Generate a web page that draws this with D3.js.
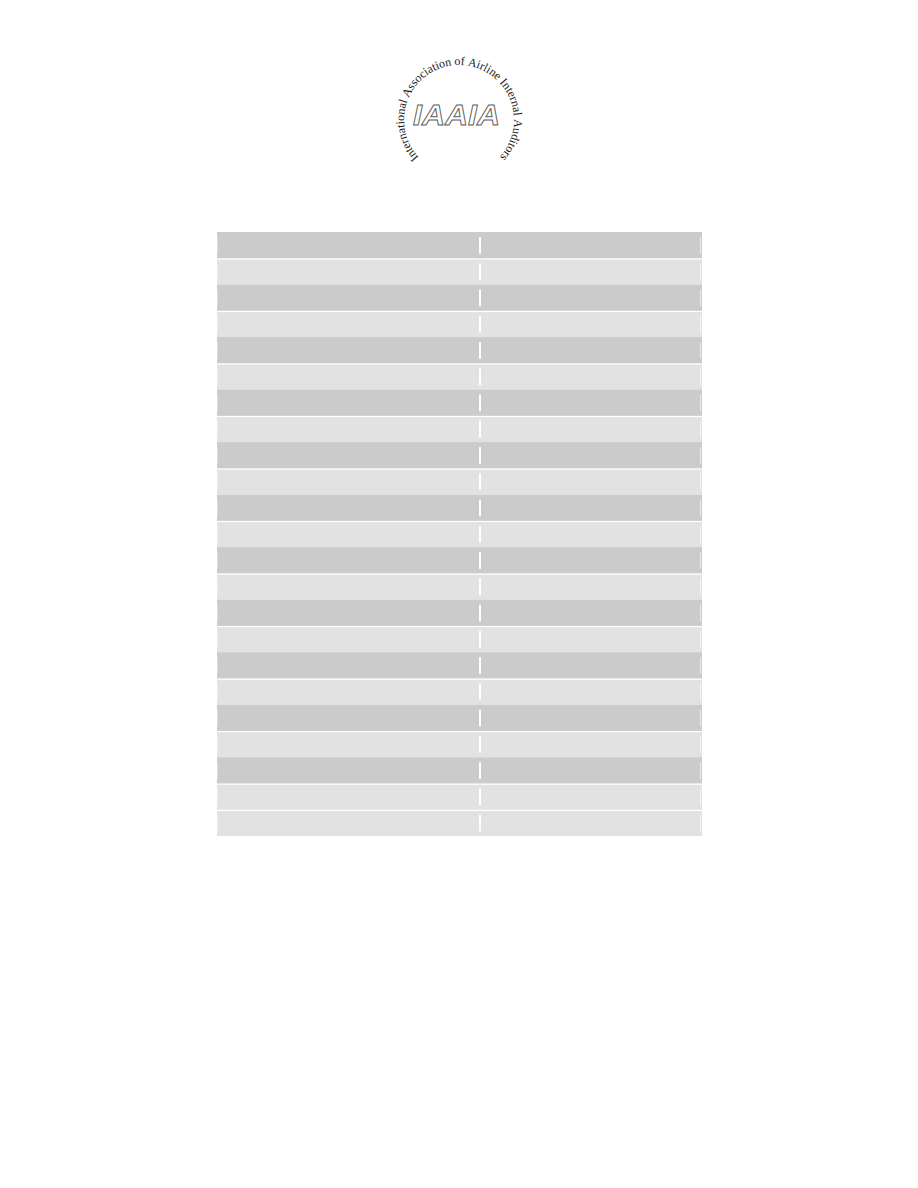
<!DOCTYPE html>
<html>
<head>
<meta charset="utf-8">
<script src="https://cdn.jsdelivr.net/npm/d3@7"></script>
<style>
  html, body { margin: 0; padding: 0; background: #ffffff; }
  svg { display: block; }
</style>
</head>
<body>
<svg id="page" width="918" height="1188"></svg>
<script>
// ---- data ----
const logoRingText = "International Association of Airline Internal Auditors";
const logoMark = "IAAIA";
const rowIds = d3.range(1, 24).map(String);
const rowShade = ["dark","light","dark","light","dark","light","dark","light","dark","light",
                  "dark","light","dark","light","dark","light","dark","light","dark","light",
                  "dark","light","light"];
const columns = ["left", "right"];
const cellText = rowIds.map(() => ["", ""]);   // table cells are empty in the reference

// ---- layout ----
const svg = d3.select("#page");
const shadeColor = { dark: "#cbcbcb", light: "#e2e2e2" };

// table scales
const y = d3.scaleBand().domain(rowIds).range([232, 836]).padding(0);
const x = d3.scaleLinear().domain([0, 1]).range([217, 702]);
const splitFrac = (480 - 217) / (702 - 217);

const table = svg.append("g").attr("class", "table");
table.selectAll("rect.row")
  .data(rowIds)
  .join("rect")
  .attr("class", "row")
  .attr("x", x(0))
  .attr("width", x(1) - x(0))
  .attr("y", (d, i) => y(d) + (rowShade[i] === "light" ? 1.3 : 0))
  .attr("height", (d, i) => y.bandwidth() - (rowShade[i] === "light" ? 1.3 : 0))
  .attr("fill", (d, i) => shadeColor[rowShade[i]]);

// column divider (white) inside each row
table.selectAll("rect.div")
  .data(rowIds)
  .join("rect")
  .attr("class", "div")
  .attr("x", x(splitFrac) - 1)
  .attr("width", 2)
  .attr("y", d => y(d) + 5)
  .attr("height", y.bandwidth() - 9.5)
  .attr("fill", "#ffffff");

// faint cell edge lines at left/right
["l", "r"].forEach(side => {
  table.selectAll("rect.edge" + side)
    .data(rowIds)
    .join("rect")
    .attr("class", "edge" + side)
    .attr("x", side === "l" ? x(0) : x(1) - 2)
    .attr("width", 1)
    .attr("y", d => y(d) + 5)
    .attr("height", y.bandwidth() - 9.5)
    .attr("fill", "#ffffff")
    .attr("opacity", side === "l" ? 0.35 : 0.6);
});

// cell text (empty in the reference)
table.selectAll("g.rowtext")
  .data(rowIds)
  .join("g")
  .attr("class", "rowtext")
  .each(function(d, i) {
    d3.select(this).selectAll("text")
      .data(cellText[i].filter(t => t !== ""))
      .join("text")
      .attr("x", (t, j) => j === 0 ? x(0) + 6 : x(splitFrac) + 6)
      .attr("y", y(d) + y.bandwidth() / 2 + 4)
      .attr("font-family", "Liberation Serif")
      .attr("font-size", 11)
      .text(t => t);
  });

// ---- logo ----
const logo = svg.append("g").attr("class", "logo");
const cx = 459, cy = 120, r = 55;
const a0 = -131 * Math.PI / 180, a1 = 130 * Math.PI / 180;
const arcLen = r * (a1 - a0);
const ringFont = 12;

// measure glyph widths
const chars = Array.from(logoRingText);
const meas = logo.append("text")
  .attr("font-family", "Liberation Serif, DejaVu Serif, serif")
  .attr("font-size", ringFont)
  .attr("opacity", 0);
const widths = chars.map(c => {
  meas.text(c === " " ? "\u00a0" : c);
  return meas.node().getComputedTextLength();
});
meas.remove();
const natural = d3.sum(widths);
const gap = (arcLen - natural + widths[0] / 2 + widths[widths.length - 1] / 2) / (chars.length - 1);
let acc = -widths[0] / 2;
const placed = chars.map((c, i) => {
  const center = acc + widths[i] / 2;
  acc += widths[i] + gap;
  const th = a0 + center / r;
  return { c, th };
}).filter(p => p.c !== " ");

logo.selectAll("text.ring")
  .data(placed)
  .join("text")
  .attr("class", "ring")
  .attr("font-family", "Liberation Serif, DejaVu Serif, serif")
  .attr("font-size", ringFont)
  .attr("fill", "#1a1a1a")
  .attr("text-anchor", "middle")
  .attr("transform", p => `translate(${cx + r * Math.sin(p.th)},${cy - r * Math.cos(p.th)}) rotate(${p.th * 180 / Math.PI})`)
  .text(p => p.c);

logo.append("text")
  .attr("x", 413)
  .attr("y", 124.5)
  .attr("font-family", "Liberation Sans, Arial, sans-serif")
  .attr("font-style", "italic")
  .attr("font-weight", "bold")
  .attr("font-size", 29.5)
  .attr("textLength", 87)
  .attr("lengthAdjust", "spacingAndGlyphs")
  .attr("fill", "#ffffff")
  .attr("stroke", "#5a5a5a")
  .attr("stroke-width", 0.9)
  .text(logoMark);
</script>
</body>
</html>
